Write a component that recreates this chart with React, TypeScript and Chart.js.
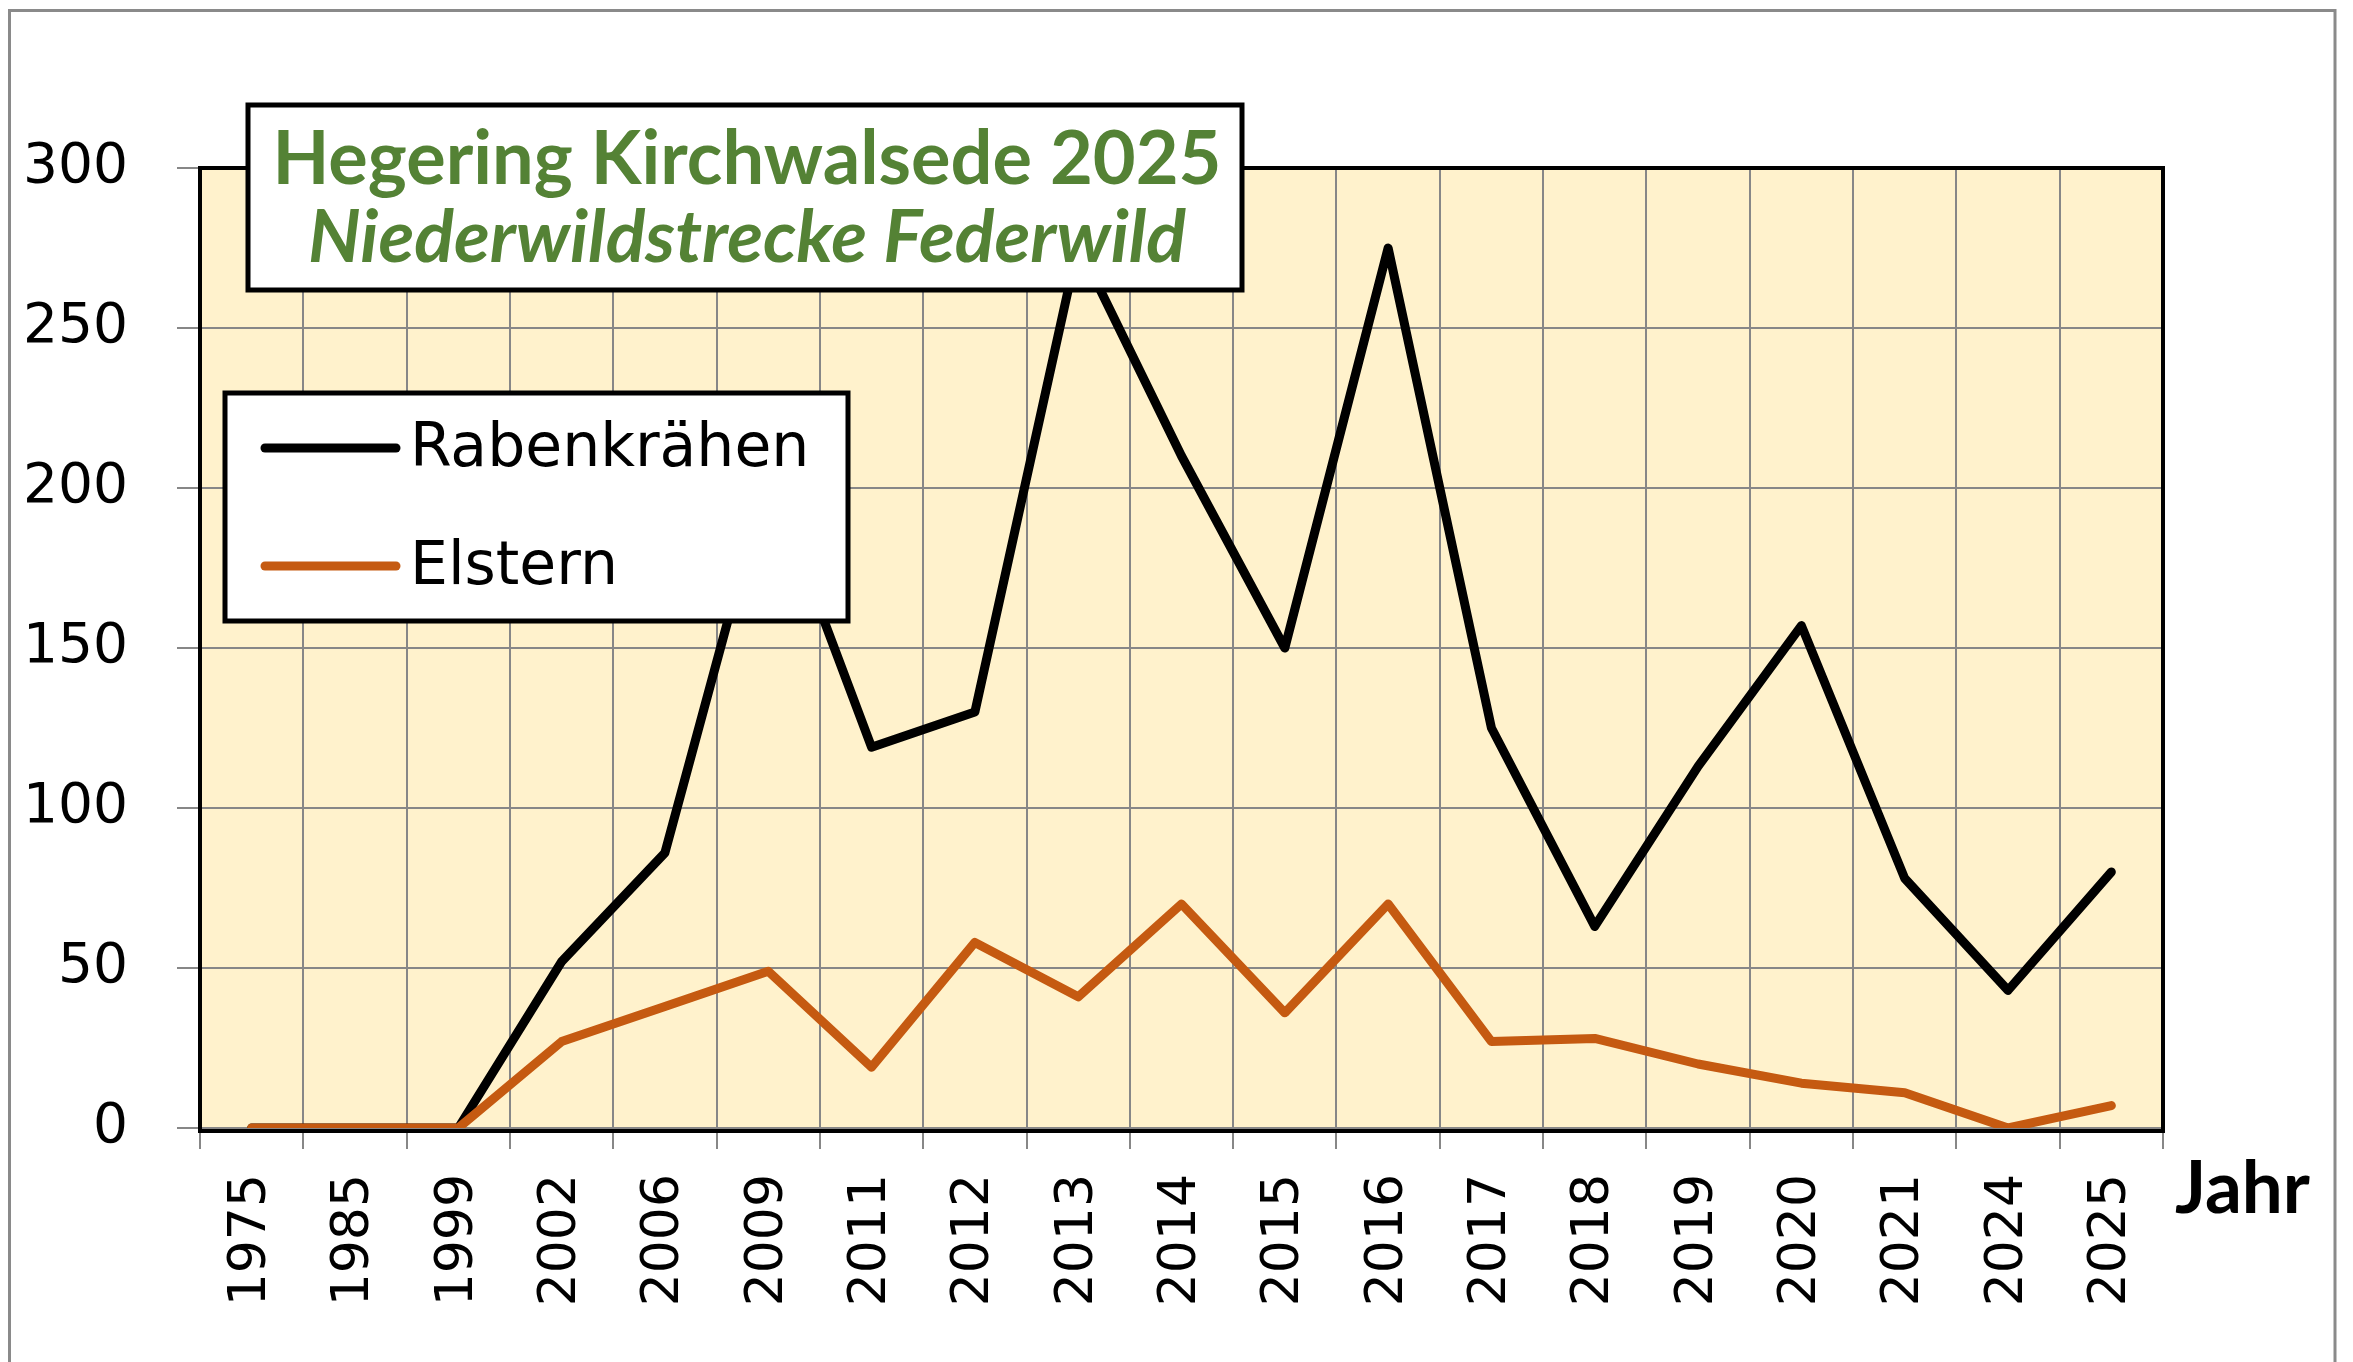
import React, { useEffect, useRef } from "react";
import { Chart, registerables } from "chart.js";

Chart.register(...registerables);

const years = ["1975", "1985", "1999", "2002", "2006", "2009", "2011", "2012", "2013", "2014", "2015", "2016", "2017", "2018", "2019", "2020", "2021", "2024", "2025"];
const rabenkraehen = [0, 0, 0, 52, 86, 205, 119, 130, 276, 210, 150, 275, 125, 63, 113, 157, 78, 43, 80];
const elstern = [0, 0, 0, 27, 38, 49, 19, 58, 41, 70, 36, 70, 27, 28, 20, 14, 11, 0, 7];
const seriesNames = ["Rabenkrähen", "Elstern"];
const seriesColors = ["#000000", "#C55A11"];
const titleLine1 = "Hegering Kirchwalsede 2025";
const titleLine2 = "Niederwildstrecke Federwild";
const xAxisTitle = "Jahr";
const yTicksMin = 0;
const yTicksMax = 300;
const yTicksStep = 50;

const W = 2353;
const H = 1362;

function fitSize(ctx: CanvasRenderingContext2D, text: string, prefix: string, family: string, target: number) {
  ctx.font = `${prefix} 100px ${family}`;
  const w = ctx.measureText(text).width;
  return (100 * target) / w;
}

const backgroundPlugin = {
  id: "bg",
  beforeDraw(chart: any) {
    const ctx = chart.ctx;
    const a = chart.chartArea;
    ctx.save();
    ctx.fillStyle = "#ffffff";
    ctx.fillRect(0, 0, W, H);
    ctx.strokeStyle = "#8a8a8a";
    ctx.lineWidth = 3;
    ctx.strokeRect(9.5, 10.5, 2335 - 9.5, H + 20);
    ctx.fillStyle = "#FFF2CC";
    ctx.fillRect(a.left, a.top, a.right - a.left, a.bottom - a.top);
    ctx.restore();
  },
  afterDatasetsDraw(chart: any) {
    const ctx = chart.ctx;
    const a = chart.chartArea;
    ctx.save();
    ctx.strokeStyle = "#000";
    ctx.lineWidth = 4;
    ctx.strokeRect(a.left, a.top, a.right - a.left, a.bottom - a.top + 3);
    ctx.restore();
  },
  afterDraw(chart: any) {
    const ctx = chart.ctx;
    ctx.save();
    // Title box
    ctx.fillStyle = "#ffffff";
    ctx.fillRect(248, 105, 994, 185);
    ctx.strokeStyle = "#000";
    ctx.lineWidth = 5;
    ctx.strokeRect(248, 105, 994, 185);
    ctx.fillStyle = "#548235";
    ctx.textAlign = "center";
    ctx.textBaseline = "alphabetic";
    const s1 = fitSize(ctx, titleLine1, "bold", "Lato", 949);
    ctx.font = `bold ${s1}px Lato`;
    ctx.fillText(titleLine1, 747, 184);
    const s2 = fitSize(ctx, titleLine2, "italic bold", "Lato", 878);
    ctx.font = `italic bold ${s2}px Lato`;
    ctx.fillText(titleLine2, 747, 262);

    // Legend box
    ctx.fillStyle = "#ffffff";
    ctx.fillRect(225, 393, 623, 228);
    ctx.strokeStyle = "#000";
    ctx.lineWidth = 5;
    ctx.strokeRect(225, 393, 623, 228);
    chart.data.datasets.forEach((ds: any, i: number) => {
      const y = 448 + i * 118;
      ctx.strokeStyle = ds.borderColor;
      ctx.lineWidth = 9;
      ctx.lineCap = "round";
      ctx.beginPath();
      ctx.moveTo(265, y);
      ctx.lineTo(396, y);
      ctx.stroke();
      ctx.fillStyle = "#000";
      ctx.textAlign = "left";
      ctx.textBaseline = "middle";
      ctx.font = `60px "DejaVu Sans"`;
      ctx.fillText(ds.label, 410, y + 2);
    });

    // Axis title
    ctx.fillStyle = "#000";
    ctx.textAlign = "left";
    ctx.textBaseline = "alphabetic";
    const s3 = fitSize(ctx, xAxisTitle, "bold", "Lato", 135);
    ctx.font = `bold ${s3}px Lato`;
    ctx.fillText(xAxisTitle, 2175, 1213);
    ctx.restore();
  },
};

export default function App() {
  const ref = useRef<HTMLCanvasElement | null>(null);
  useEffect(() => {
    document.body.style.margin = "0";
    document.body.style.overflow = "hidden";
    const canvas = ref.current!;
    const chart = new Chart(canvas, {
      type: "line",
      data: {
        labels: years,
        datasets: [
          {
            label: seriesNames[0],
            data: rabenkraehen,
            borderColor: seriesColors[0],
            backgroundColor: seriesColors[0],
            borderWidth: 9,
            pointRadius: 0,
            borderJoinStyle: "round",
            borderCapStyle: "round",
            tension: 0,
            order: 1,
          },
          {
            label: seriesNames[1],
            data: elstern,
            borderColor: seriesColors[1],
            backgroundColor: seriesColors[1],
            borderWidth: 9,
            pointRadius: 0,
            borderJoinStyle: "round",
            borderCapStyle: "round",
            tension: 0,
            order: 0,
          },
        ],
      },
      options: {
        animation: false,
        responsive: false,
        devicePixelRatio: 1,
        layout: { padding: { left: 0, right: 190, top: 168, bottom: 0 } },
        plugins: { legend: { display: false }, tooltip: { enabled: false }, title: { display: false } },
        scales: {
          x: {
            type: "category",
            offset: true,
            grid: { offset: true, color: "#878787", lineWidth: 2, tickLength: 21, tickColor: "#878787", drawTicks: true },
            border: { display: false },
            ticks: {
              minRotation: 90,
              maxRotation: 90,
              autoSkip: false,
              padding: 25,
              color: "#000",
              font: { family: "DejaVu Sans", size: 52 },
            },
            afterFit(s: any) {
              s.height = 234;
            },
          },
          y: {
            min: yTicksMin,
            max: yTicksMax,
            ticks: { stepSize: yTicksStep, padding: 49, color: "#000", font: { family: "DejaVu Sans", size: 55 } },
            grid: { color: "#878787", lineWidth: 2, tickLength: 23, tickColor: "#878787" },
            border: { display: false },
            afterFit(s: any) {
              s.width = 200;
            },
          },
        },
      } as any,
      plugins: [backgroundPlugin],
    });
    return () => chart.destroy();
  }, []);
  return (
    <div style={{ width: W, height: H }}>
      <canvas ref={ref} width={W} height={H} style={{ display: "block", width: W, height: H }} />
    </div>
  );
}
